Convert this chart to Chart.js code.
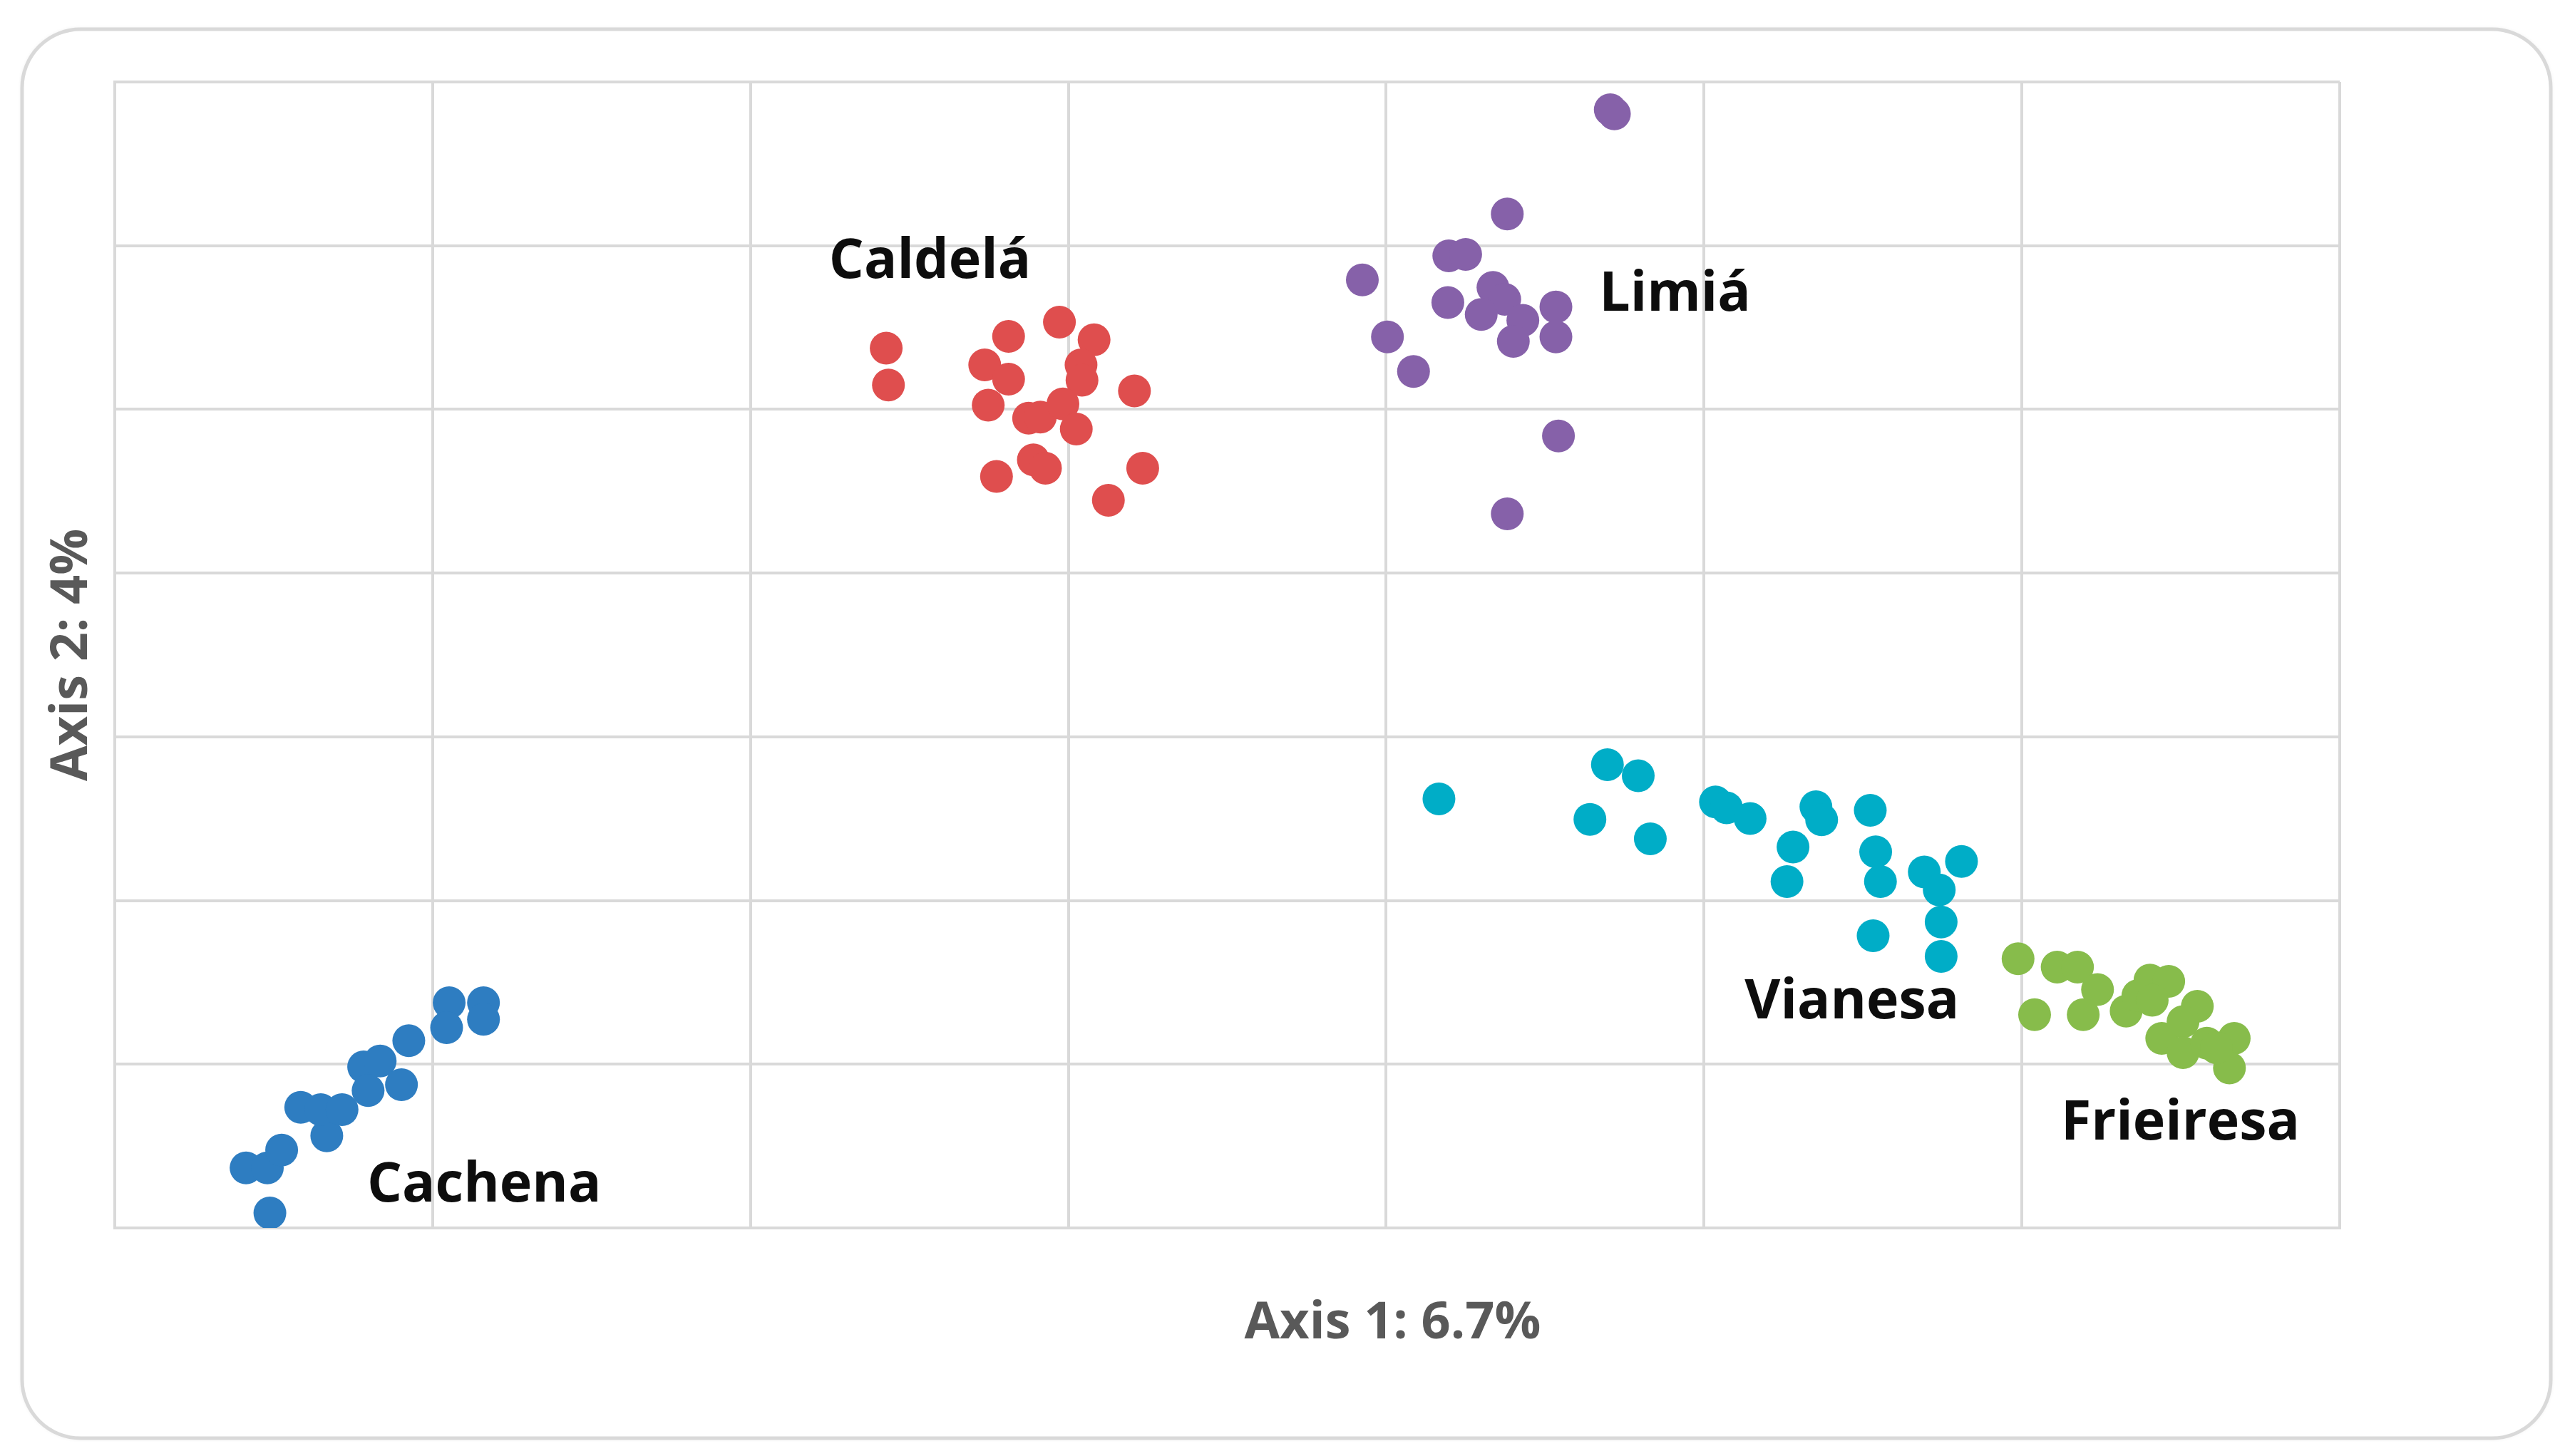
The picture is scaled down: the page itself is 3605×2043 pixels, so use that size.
<!DOCTYPE html>
<html>
<head>
<meta charset="utf-8">
<script src="https://cdn.jsdelivr.net/npm/chart.js@4"></script>
<style>
html,body{margin:0;padding:0;background:#fff;}
#wrap{position:relative;width:3605px;height:2043px;}
canvas{display:block;}
</style>
</head>
<body>
<div id="wrap"><canvas id="c" width="3605" height="2043"></canvas></div>
<script>
// ---- data (axis units: 0..7 on both axes, no tick labels shown) ----
const breeds = ["Cachena", "Caldelá", "Limiá", "Vianesa", "Frieiresa"];

const cachenaX = [0.488,0.413,0.480,0.525,0.667,0.585,0.648,0.715,0.783,0.835,0.797,0.902,0.925,1.052,1.044,1.160,1.160];
const cachenaY = [0.091,0.367,0.367,0.476,0.563,0.737,0.723,0.723,0.984,1.020,0.839,0.875,1.144,1.376,1.223,1.376,1.274];

const caldelaX = [2.427,2.434,2.812,2.972,3.081,2.737,2.812,3.040,3.043,3.208,2.748,2.875,2.912,2.983,3.025,2.890,2.928,2.774,3.234,3.126];
const caldelaY = [5.374,5.149,5.446,5.533,5.425,5.272,5.185,5.272,5.178,5.113,5.026,4.946,4.953,5.033,4.880,4.692,4.641,4.590,4.641,4.445];

const limiaX = [4.705,4.718,4.381,3.925,4.197,4.250,4.194,4.336,4.373,4.299,4.430,4.400,4.534,4.534,4.004,4.086,4.542,4.381];
const limiaY = [6.830,6.805,6.194,5.791,5.938,5.947,5.653,5.745,5.672,5.580,5.544,5.415,5.626,5.443,5.443,5.232,4.838,4.362];

const vianesaX = [4.166,4.696,4.793,4.641,4.831,5.036,5.071,5.145,5.352,5.370,5.280,5.261,5.523,5.540,5.555,5.532,5.693,5.740,5.810,5.746,5.746];
const vianesaY = [2.621,2.830,2.762,2.496,2.377,2.602,2.566,2.501,2.573,2.493,2.327,2.116,2.551,2.297,2.116,1.785,2.174,2.065,2.239,1.869,1.659];

const frieiresaX = [5.988,6.040,6.111,6.175,6.238,6.193,6.328,6.365,6.403,6.462,6.410,6.552,6.440,6.507,6.507,6.582,6.668,6.653,6.612];
const frieiresaY = [1.644,1.303,1.593,1.593,1.456,1.303,1.325,1.419,1.514,1.506,1.391,1.354,1.158,1.260,1.071,1.129,1.158,0.977,1.100];

// cluster label anchors (axis units, left edge / vertical middle of text)
const labelText = ["Caldelá", "Limiá", "Vianesa", "Frieiresa", "Cachena"];
const labelX = [2.247, 4.670, 5.128, 6.123, 0.794];
const labelY = [5.898, 5.697, 1.374, 0.634, 0.256];

const axisTitleX = "Axis 1: 6.7%";
const axisTitleY = "Axis 2: 4%";

const colors = ["#2E7DC1", "#DF4E4E", "#8661A9", "#00ADC7", "#87BC4B"];

function pts(xs, ys){ return xs.map((x,i)=>({x:x, y:ys[i]})); }
const seriesX = [cachenaX, caldelaX, limiaX, vianesaX, frieiresaX];
const seriesY = [cachenaY, caldelaY, limiaY, vianesaY, frieiresaY];

const datasets = breeds.map((b,i)=>({
  label: b,
  data: pts(seriesX[i], seriesY[i]),
  backgroundColor: colors[i],
  borderWidth: 0,
  pointRadius: 23,
  pointHoverRadius: 23
}));

const cardPlugin = {
  id: 'card',
  beforeDraw(chart){
    const ctx = chart.ctx;
    ctx.save();
    ctx.fillStyle = '#ffffff';
    ctx.fillRect(0,0,chart.width,chart.height);
    const x0=31, y0=41, x1=3578, y1=2018, r=82;
    ctx.beginPath();
    ctx.moveTo(x0+r,y0);
    ctx.lineTo(x1-r,y0); ctx.arcTo(x1,y0,x1,y0+r,r);
    ctx.lineTo(x1,y1-r); ctx.arcTo(x1,y1,x1-r,y1,r);
    ctx.lineTo(x0+r,y1); ctx.arcTo(x0,y1,x0,y1-r,r);
    ctx.lineTo(x0,y0+r); ctx.arcTo(x0,y0,x0+r,y0,r);
    ctx.closePath();
    ctx.shadowColor='rgba(0,0,0,0.12)';
    ctx.shadowBlur=6;
    ctx.fillStyle='#ffffff';
    ctx.fill();
    ctx.shadowColor='transparent';
    ctx.lineWidth=5;
    ctx.strokeStyle='#d9d9d9';
    ctx.stroke();
    ctx.restore();
  }
};

const labelPlugin = {
  id: 'labels',
  afterDatasetsDraw(chart){
    const ctx = chart.ctx, xs = chart.scales.x, ys = chart.scales.y;
    ctx.save();
    ctx.fillStyle = '#0d0d0d';
    ctx.font = 'bold 77px "Open Sans"';
    ctx.textAlign = 'left';
    ctx.textBaseline = 'middle';
    labelText.forEach((t,i)=>{
      ctx.fillText(t, xs.getPixelForValue(labelX[i]), ys.getPixelForValue(labelY[i]));
    });
    // axis titles
    ctx.fillStyle = '#595959';
    ctx.font = 'bold 72px "Open Sans"';
    ctx.textAlign = 'center';
    ctx.textBaseline = 'middle';
    const ca = chart.chartArea;
    ctx.fillText(axisTitleX, xs.getPixelForValue(4.02), ca.bottom + 134);
    ctx.translate(101, (ca.top+ca.bottom)/2);
    ctx.rotate(-Math.PI/2);
    ctx.fillText(axisTitleY, 0, 0);
    ctx.restore();
  }
};

new Chart(document.getElementById('c'), {
  type: 'scatter',
  data: { datasets },
  options: {
    responsive: false,
    animation: false,
    devicePixelRatio: 1,
    layout: { padding: { left: 161, top: 115, right: 323, bottom: 320 } },
    plugins: { legend: { display: false }, tooltip: { enabled: false } },
    scales: {
      x: {
        type: 'linear', min: 0, max: 7,
        ticks: { display: false, stepSize: 1 },
        grid: { color: '#d9d9d9', lineWidth: 4, drawTicks: false },
        border: { color: '#d9d9d9', width: 4 }
      },
      y: {
        type: 'linear', min: 0, max: 7,
        ticks: { display: false, stepSize: 1 },
        grid: { color: '#d9d9d9', lineWidth: 4, drawTicks: false },
        border: { color: '#d9d9d9', width: 4 }
      }
    }
  },
  plugins: [cardPlugin, labelPlugin]
});
</script>
</body>
</html>
